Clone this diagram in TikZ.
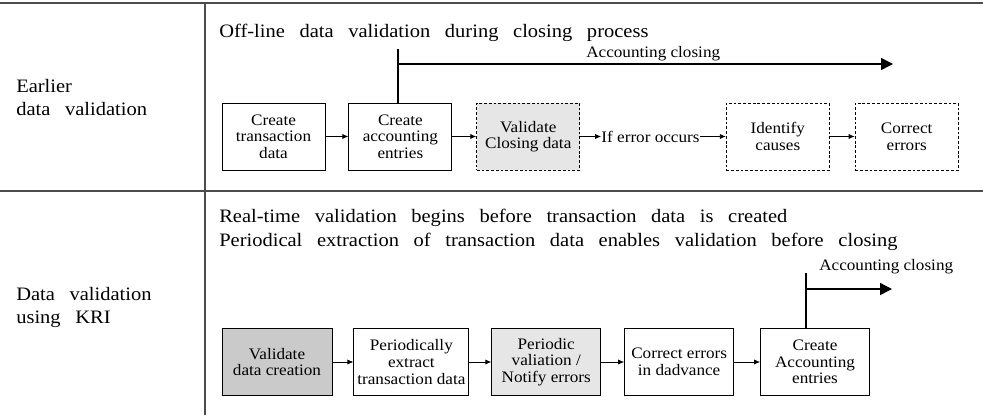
\documentclass[tikz,border=0pt]{standalone}
\usepackage{fontspec}
\setmainfont{Liberation Serif}
\newfontfamily\boxfont[FakeStretch=1.07]{Liberation Serif}
\newfontfamily\headfont[FakeStretch=1.08]{Liberation Serif}
\newcommand\headsize{\headfont\fontsize{13.5}{17}\selectfont\spaceskip=10.4pt\relax}
\newcommand\rowsize{\headfont\fontsize{13.5}{16.3}\selectfont\spaceskip=10.4pt\relax}
\newcommand\boxsize{\boxfont\fontsize{11.4}{11.8}\selectfont}
\usetikzlibrary{arrows.meta,positioning}
\definecolor{lightfill}{HTML}{E6E6E6}
\definecolor{darkfill}{HTML}{CACACA}

\begin{document}
\begin{tikzpicture}[x=0.025cm, y=-0.025cm, node distance=0.58cm,
  block/.style={rectangle, draw, line width=0.6pt, minimum width=2.575cm, minimum height=1.675cm, align=center, inner sep=1pt, font=\boxsize},
  dblock/.style={block, dash pattern=on 2pt off 1.4pt},
  head/.style={anchor=base west, align=left, inner sep=0pt, font=\headsize},
  small/.style={anchor=base west, inner sep=0pt, font=\boxsize},
  rule/.style={draw=black!70, line width=0.8pt},
  line/.style={draw, line width=0.6pt, -{Latex[length=1.5mm, width=1.3mm]}},
  bigline/.style={draw, line width=1pt},
  bigarrow/.style={bigline, -{Triangle[length=3mm, width=3mm]}}]

  \useasboundingbox (0,0) rectangle (983,415);

  % table
  \draw [rule] (0,3) -- (983,3);
  \draw [rule] (0,191) -- (983,191);
  \draw [rule] (205,3) -- (205,415);

  % row labels (base = last line)
  \node [head, font=\rowsize] (row1) at (16,115) {Earlier\\data validation};
  \node [head, font=\rowsize] (row2) at (16,323) {Data validation\\using KRI};

  % earlier validation
  \node [head] (title1) at (219,37) {Off-line data validation during closing process};
  \node [block] (t1) at (273.5,136.5) {Create\\transaction\\data};
  \node [block, right=0.575cm of t1] (t2) {Create\\accounting\\entries};
  \node [dblock, fill=lightfill, right=0.6cm of t2] (t3) {Validate\\Closing data};
  \node [right=0.525cm of t3, inner sep=0pt, font=\boxsize] (err) {If error occurs};
  \node [dblock, right=0.65cm of err] (t4) {Identify\\causes};
  \node [dblock, right=0.625cm of t4] (t5) {Correct\\errors};

  \path [line] (t1) -- (t2);
  \path [line] (t2) -- (t3);
  \path [line] (t3) -- (err);
  \path [line] (err) -- (t4);
  \path [line] (t4) -- (t5);

  \coordinate (c1) at (398,49);
  \coordinate (j1) at (398,64);
  \coordinate (a1) at (893,64);
  \path [bigline] (c1) -- (c1 |- t2.north);
  \path [bigarrow] (j1) -- (a1);
  \node [small] (close1) at (586,57) {Accounting closing};

  % validation using KRI
  \node [head] (title2) at (219,246) {Real-time validation begins before transaction data is created\\Periodical extraction of transaction data enables validation before closing};
  \node [block, fill=darkfill, minimum width=2.75cm] (b1) at (277,362) {Validate\\data creation};
  \node [block, minimum width=2.875cm, right=0.525cm of b1] (b2) {Periodically\\extract\\transaction data};
  \node [block, fill=lightfill, minimum width=2.725cm, right=0.55cm of b2] (b3) {Periodic\\valiation /\\Notify errors};
  \node [block, minimum width=2.725cm, right=0.575cm of b3] (b4) {Correct errors\\in dadvance};
  \node [block, minimum width=2.725cm, right=0.65cm of b4] (b5) {Create\\Accounting\\entries};

  \path [line] (b1) -- (b2);
  \path [line] (b2) -- (b3);
  \path [line] (b3) -- (b4);
  \path [line] (b4) -- (b5);

  \coordinate (c2) at (806,273);
  \coordinate (j2) at (806,289);
  \coordinate (a2) at (892,289);
  \path [bigline] (c2) -- (c2 |- b5.north);
  \path [bigarrow] (j2) -- (a2);
  \node [small] (close2) at (819,270) {Accounting closing};
\end{tikzpicture}
\end{document}
